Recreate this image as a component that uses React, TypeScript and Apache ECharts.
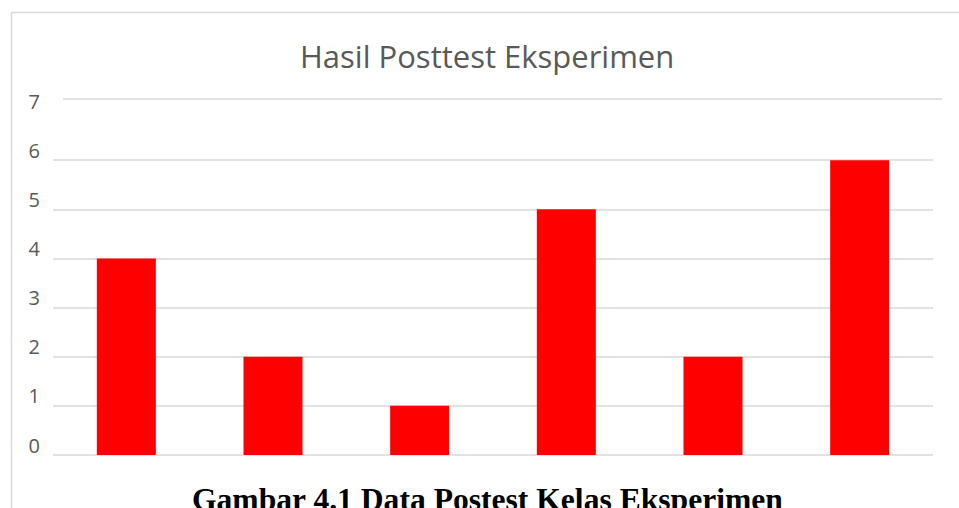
import React, { useEffect, useRef } from "react";
import * as echarts from "echarts";

const chartTitle = "Hasil Posttest Eksperimen";
const caption = "Gambar 4.1 Data Postest Kelas Eksperimen";
const categories = ["1", "2", "3", "4", "5", "6"];
const values = [4, 2, 1, 5, 2, 6];
const yMin = 0;
const yMax = 7;
const yInterval = 1;

export default function App() {
  const ref = useRef<HTMLDivElement>(null);
  useEffect(() => {
    if (!ref.current) return;
    const chart = echarts.init(ref.current, undefined, { renderer: "svg" });
    const gridColors = ["#d9d9d9", "#d9d9d9", "#d9d9d9", "#d9d9d9", "#d9d9d9", "#d9d9d9", "#d9d9d9", "rgba(0,0,0,0)"];
    chart.setOption({
      animation: false,
      backgroundColor: "#ffffff",
      title: [
        {
          text: chartTitle,
          left: 295,
          top: 35,
          textStyle: { fontFamily: "Open Sans", fontSize: 31, fontWeight: "normal", color: "#595959" },
        },
        {
          text: caption,
          left: 187,
          top: 478,
          textStyle: { fontFamily: "Liberation Serif", fontSize: 31.6, fontWeight: "bold", color: "#000000" },
        },
      ],
      graphic: [
        {
          type: "rect",
          shape: { x: 11.5, y: 12.5, width: 980, height: 520 },
          style: { fill: "none", stroke: "#d9d9d9", lineWidth: 1.5 },
          z: -1,
        },
        {
          type: "line",
          shape: { x1: 63, y1: 99, x2: 942, y2: 99 },
          style: { stroke: "#d9d9d9", lineWidth: 1.5 },
        },
      ],
      grid: { left: 53, right: 26, top: 111, bottom: 53 },
      xAxis: {
        type: "category",
        data: categories,
        axisLine: { show: false },
        axisTick: { show: false },
        axisLabel: { show: false },
      },
      yAxis: {
        type: "value",
        min: yMin,
        max: yMax,
        interval: yInterval,
        axisLine: { show: false },
        axisTick: { show: false },
        axisLabel: {
          margin: 13,
          verticalAlign: "bottom",
          fontFamily: "Open Sans",
          fontSize: 20,
          color: "#595959",
        },
        splitLine: { show: true, lineStyle: { color: gridColors, width: 1.5 } },
      },
      series: [
        {
          type: "bar",
          data: values,
          barWidth: 59,
          itemStyle: { color: "#ff0000" },
        },
      ],
    });
    return () => chart.dispose();
  }, []);
  return <div ref={ref} style={{ position: "fixed", left: 0, top: 0, width: 959, height: 508 }} />;
}
